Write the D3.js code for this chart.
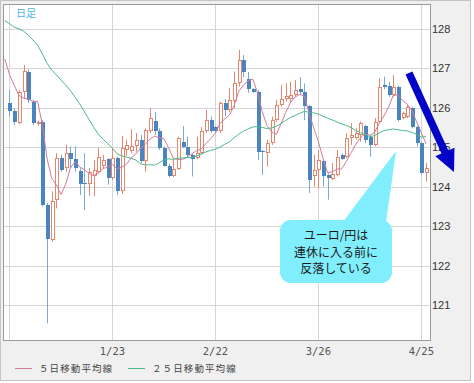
<!DOCTYPE html>
<html><head><meta charset="utf-8">
<script src="https://cdn.jsdelivr.net/npm/d3@7"></script>
<style>body{margin:0;background:#fff}</style>
</head><body><svg id="c" width="474" height="383"></svg>
<script>
// ---- data (EUR/JPY daily) ----
const dates = ["12/24","12/25","12/26","12/27","12/28","12/31","1/1","1/2","1/3","1/4",
"1/7","1/8","1/9","1/10","1/11","1/14","1/15","1/16","1/17","1/18",
"1/21","1/22","1/23","1/24","1/25","1/28","1/29","1/30","1/31","2/1",
"2/4","2/5","2/6","2/7","2/8","2/11","2/12","2/13","2/14","2/15",
"2/18","2/19","2/20","2/21","2/22","2/25","2/26","2/27","2/28","3/1",
"3/4","3/5","3/6","3/7","3/8","3/11","3/12","3/13","3/14","3/15",
"3/18","3/19","3/20","3/21","3/22","3/25","3/26","3/27","3/28","3/29",
"4/1","4/2","4/3","4/4","4/5","4/8","4/9","4/10","4/11","4/12",
"4/15","4/16","4/17","4/18","4/19","4/22","4/23","4/24","4/25","4/26"];
const open = [126.13,125.93,125.62,126.41,126.92,126.16,125.62,125.65,123.54,122.65,
123.66,124.72,124.47,124.85,124.70,124.40,124.09,124.07,124.26,124.38,
124.52,124.70,124.22,124.72,123.88,124.93,124.91,125.02,125.19,124.64,
125.42,125.67,125.40,124.98,124.53,124.26,124.44,125.14,125.00,124.81,
124.72,124.85,125.42,125.69,125.51,125.42,126.12,125.95,126.18,126.62,
127.21,126.73,126.47,126.41,124.91,124.85,125.10,125.69,126.07,126.22,
126.22,126.33,126.47,126.41,126.05,124.26,124.43,124.64,124.30,124.19,
124.30,124.81,124.76,125.23,125.24,125.31,125.54,125.27,125.06,125.65,
126.58,126.56,126.33,126.54,125.74,125.78,125.99,125.52,125.10,124.34];
const high = [126.45,125.99,126.45,127.09,126.98,126.20,125.68,125.69,123.58,123.88,
124.85,124.81,125.06,125.02,125.03,124.47,124.85,124.47,124.68,124.98,
124.81,124.72,124.97,124.76,125.29,125.19,125.46,125.36,125.31,125.48,
125.99,125.90,125.48,125.02,124.58,124.70,125.27,125.54,125.27,124.85,
125.27,125.51,125.95,125.78,125.54,126.16,126.22,126.50,126.92,127.47,
127.34,126.91,126.50,126.45,124.93,125.19,125.78,126.20,126.58,126.62,
126.66,126.71,126.78,126.62,126.07,124.81,124.93,124.68,124.34,124.60,
124.93,124.85,125.36,125.61,125.48,125.65,125.57,125.31,125.74,126.75,
126.79,126.66,126.83,126.56,125.90,126.07,126.03,125.54,125.14,124.60];
const low = [125.78,125.56,125.59,126.24,126.12,125.57,125.55,123.50,120.54,122.61,
123.45,124.38,124.38,124.47,124.38,123.79,123.41,123.77,123.75,124.34,
124.45,124.05,124.17,123.79,123.82,124.78,124.85,124.89,124.60,124.38,
125.36,125.31,124.93,124.51,124.24,124.24,124.43,124.98,124.76,124.26,
124.70,124.81,125.37,125.37,125.37,125.36,125.79,125.90,126.00,126.54,
126.78,126.38,126.38,124.68,124.30,124.51,125.06,125.65,126.03,126.16,
126.12,126.28,126.33,125.69,123.84,124.00,123.96,124.00,123.67,124.17,
124.26,124.68,124.72,125.06,125.19,125.14,125.10,124.76,125.03,125.61,
126.48,126.28,126.28,125.65,125.71,125.74,125.48,125.02,124.30,124.13];
const close = [125.93,125.65,126.41,126.94,126.20,125.62,125.64,123.54,122.67,123.64,
124.72,124.43,124.85,124.70,124.47,124.07,124.06,124.38,124.43,124.76,
124.68,124.22,124.72,123.88,124.98,125.05,125.03,125.19,124.64,125.44,
125.74,125.40,124.98,124.53,124.27,124.44,125.23,125.00,124.81,124.70,
124.85,125.42,125.69,125.42,125.40,126.12,125.95,126.20,126.62,127.21,
126.91,126.48,126.41,124.89,124.87,125.10,125.69,126.07,126.22,126.30,
126.33,126.44,126.39,126.05,124.17,124.43,124.68,124.26,124.22,124.32,
124.76,124.70,125.23,125.31,125.36,125.61,125.19,125.06,125.65,126.54,
126.52,126.33,126.54,125.69,125.86,126.03,125.52,125.10,124.34,124.47];
// closes of the 25 sessions before 12/24 (needed for the moving averages)
const priorCloses = [127.7,127.9,127.5,128.4,128.7,128.7,129.0,128.9,128.7,
128.0,127.6,128.0,127.8,128.3,128.6,128.4,129.0,129.3,129.4,129.1,
127.9,127.0,127.7,127.3,126.3];
const gridDates = ["12/24","1/23","2/22","3/26","4/25"];
const tickLabels = ["1/23","2/22","3/26","4/25"];
const yTicks = [121,122,123,124,125,126,127,128];
const maPeriods = [5,25];
const legendLabels = ["５日移動平均線","２５日移動平均線"];
const noteLines = ["ユーロ/円は","連休に入る前に","反落している"];
const cornerLabel = "日足";

// ---- layout ----
const svg = d3.select("#c");
const L = 3.5, R = 430.5, T = 4.5, B = 340.5;
const x = d3.scaleLinear().domain([-1.28, 89.96]).range([L, R]);
const y = d3.scaleLinear().domain([120.1, 128.62]).range([B, T]);
const upCol = "#e4866c", dnCol = "#4a85c0", dnWick = "#79a9d8";
const maCols = ["#cf7b9b", "#4db887"];

svg.append("rect").attr("x",0.5).attr("y",0.5).attr("width",470).attr("height",380)
  .attr("fill","#f0f0f0").attr("stroke","#c4c4c4");
svg.append("rect").attr("x",L).attr("y",T).attr("width",R-L).attr("height",B-T).attr("fill","#fff");
svg.append("clipPath").attr("id","pc").append("rect").attr("x",L).attr("y",T).attr("width",R-L).attr("height",B-T);

const g = svg.append("g").attr("clip-path","url(#pc)");
// grid
g.selectAll(".hg").data(yTicks).join("line")
  .attr("x1",L).attr("x2",R).attr("y1",d=>Math.round(y(d))+0.5).attr("y2",d=>Math.round(y(d))+0.5)
  .attr("stroke","#d6d6d6");
g.selectAll(".vg").data(gridDates).join("line")
  .attr("x1",d=>Math.round(x(dates.indexOf(d)))+0.5).attr("x2",d=>Math.round(x(dates.indexOf(d)))+0.5)
  .attr("y1",T).attr("y2",B).attr("stroke","#d6d6d6");

// candles
const idx = d3.range(dates.length);
const cg = g.append("g");
idx.forEach(i=>{
  const cx = Math.round(x(i));
  const up = close[i] >= open[i];
  cg.append("line").attr("x1",cx+0.5).attr("x2",cx+0.5)
    .attr("y1",y(high[i])).attr("y2",y(low[i]))
    .attr("stroke", up ? upCol : dnWick).attr("stroke-width",1);
  const yt = Math.round(y(Math.max(open[i],close[i])));
  const yb = Math.round(y(Math.min(open[i],close[i])));
  const h = Math.max(1, yb-yt);
  if (up) {
    cg.append("rect").attr("x",cx-0.5).attr("y",yt+0.5).attr("width",3).attr("height",Math.max(1,h-1))
      .attr("fill","#fff").attr("stroke",upCol).attr("stroke-width",1);
  } else {
    cg.append("rect").attr("x",cx-1).attr("y",yt).attr("width",4).attr("height",h)
      .attr("fill",dnCol);
  }
});

// moving averages
const all = priorCloses.concat(close);
const off = priorCloses.length;
maPeriods.forEach((n,k)=>{
  const pts = d3.range(-1, dates.length).map(i=>{
    const j = i + off;
    return [i, d3.mean(all.slice(j-n+1, j+1))];
  });
  g.append("path").datum(pts)
    .attr("d", d3.line().x(d=>x(d[0])).y(d=>y(d[1])))
    .attr("fill","none").attr("stroke",maCols[k]).attr("stroke-width",1);
});

// plot border
svg.append("rect").attr("x",L).attr("y",T).attr("width",R-L).attr("height",B-T)
  .attr("fill","none").attr("stroke","#9a9a9a");

// y labels
svg.selectAll(".yl").data(yTicks).join("text")
  .attr("x",432).attr("y",d=>y(d)).attr("dy","0.36em")
  .attr("font-family","'Liberation Sans',Arial,sans-serif").attr("font-size",11)
  .attr("fill","#333").text(d=>d);
// x labels
svg.selectAll(".xl").data(tickLabels).join("text")
  .attr("x",d=>x(dates.indexOf(d))).attr("y",355).attr("text-anchor","middle")
  .attr("font-family","'DejaVu Sans Mono','Liberation Mono',monospace").attr("font-size",10.5)
  .attr("fill","#555").text(d=>d);

// legend
const lgX = [15, 128];
legendLabels.forEach((t,k)=>{
  svg.append("line").attr("x1",lgX[k]).attr("x2",lgX[k]+17).attr("y1",368.5).attr("y2",368.5)
    .attr("stroke",maCols[k]);
  svg.append("text").attr("x",lgX[k]+24).attr("y",372)
    .attr("font-family","'Noto Sans CJK JP',sans-serif").attr("font-size",9.5)
    .attr("letter-spacing",1.1).attr("fill","#444").text(t);
});

// corner label
svg.append("text").attr("x",16).attr("y",16.5)
  .attr("font-family","'Noto Sans CJK JP',sans-serif").attr("font-size",10)
  .attr("fill","#4fb4e4").text(cornerLabel);

// callout
const cal = svg.append("g");
cal.append("path").attr("d","M343,222 L386,222 L396,151 Z").attr("fill","#80eefc");
cal.append("rect").attr("x",280).attr("y",220).attr("width",112).attr("height",63).attr("rx",11)
  .attr("fill","#80eefc");
noteLines.forEach((t,k)=>{
  cal.append("text").attr("x",336).attr("y",240+k*16.5).attr("text-anchor","middle")
    .attr("font-family","'Noto Sans CJK JP',sans-serif").attr("font-size",12)
    .attr("fill","#1a1a1a").text(t);
});

// arrow
const S = [409,73], TP = [454,172];
const dx = TP[0]-S[0], dy = TP[1]-S[1], len = Math.hypot(dx,dy);
const u = [dx/len, dy/len], nv = [u[1], -u[0]];
const hl = 22, hw = 10.5, sw = 3.8;
const Bp = [TP[0]-u[0]*hl, TP[1]-u[1]*hl];
const P = (p,s)=>[p[0]+nv[0]*s, p[1]+nv[1]*s];
const poly = [P(S,sw),P(Bp,sw),P(Bp,hw),TP,P(Bp,-hw),P(Bp,-sw),P(S,-sw)];
svg.append("polygon").attr("points",poly.map(p=>p.join(",")).join(" ")).attr("fill","#0404c8");
</script></body></html>
